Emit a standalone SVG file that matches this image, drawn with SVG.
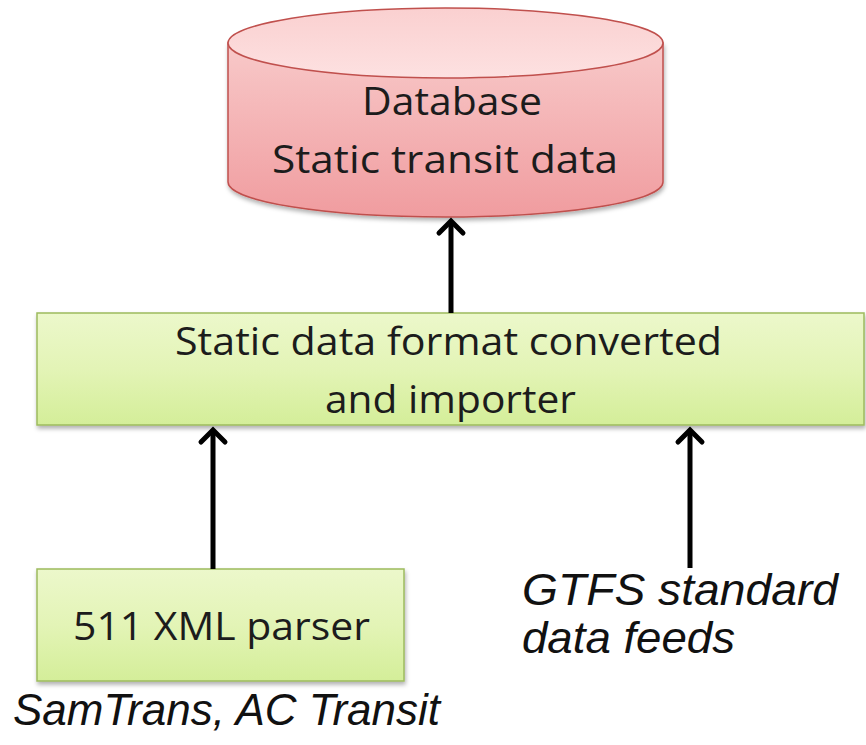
<svg xmlns="http://www.w3.org/2000/svg" width="866" height="745" viewBox="0 0 866 745">
<style>
.lbl{font-family:"Open Sans","Liberation Sans",sans-serif;font-size:39px;fill:#1c1c1c;text-anchor:start}
.ital{font-family:"Liberation Sans",Arial,sans-serif;font-style:italic;font-size:45px;fill:#111}
.box{fill:url(#green);stroke:#9dbb5e;stroke-width:1.5;filter:url(#shadow)}
.conn{stroke:#000;stroke-width:5;fill:none;marker-end:url(#arrow)}
</style>
<defs>
<linearGradient id="green" x1="0" y1="0" x2="0" y2="1">
<stop offset="0" stop-color="#ecf8cb"/>
<stop offset="0.5" stop-color="#e3f4b6"/>
<stop offset="1" stop-color="#d4ee99"/>
</linearGradient>
<linearGradient id="pinkBody" x1="0" y1="0" x2="0" y2="1">
<stop offset="0" stop-color="#f8c9c9"/>
<stop offset="1" stop-color="#f09c9f"/>
</linearGradient>
<linearGradient id="pinkTop" x1="0" y1="0" x2="0" y2="1">
<stop offset="0" stop-color="#fad0d0"/>
<stop offset="1" stop-color="#fde1e1"/>
</linearGradient>
<filter id="shadow" x="-5%" y="-10%" width="110%" height="130%">
<feDropShadow dx="1" dy="3" stdDeviation="2" flood-color="#000" flood-opacity="0.3"/>
</filter>
<marker id="arrow" markerUnits="userSpaceOnUse" markerWidth="40" markerHeight="40" viewBox="-20 -20 40 40" refX="0" refY="0" orient="auto" overflow="visible">
<path d="M-12,-12 L0,0 L-12,12" fill="none" stroke="#000" stroke-width="5" stroke-linejoin="miter" stroke-linecap="round"/>
</marker>
</defs>

<g id="database">
<path d="M228,43 V182 A217.5,35 0 0 0 663,182 V43 Z" fill="url(#pinkBody)" stroke="#c0504d" stroke-width="1.5" filter="url(#shadow)"/>
<ellipse cx="445.5" cy="43" rx="217.5" ry="35" fill="url(#pinkTop)" stroke="#c0504d" stroke-width="1.5"/>
<text class="lbl" x="362" y="115" textLength="180" lengthAdjust="spacingAndGlyphs">Database</text>
<text class="lbl" x="272" y="173" textLength="346" lengthAdjust="spacingAndGlyphs">Static transit data</text>
</g>

<g id="converter">
<rect class="box" x="37" y="313" width="827" height="112"/>
<text class="lbl" x="175" y="355" textLength="547" lengthAdjust="spacingAndGlyphs">Static data format converted</text>
<text class="lbl" x="325" y="413" textLength="251" lengthAdjust="spacingAndGlyphs">and importer</text>
</g>

<g id="parser">
<rect class="box" x="37" y="569" width="367" height="112"/>
<text class="lbl" x="73" y="640" textLength="297" lengthAdjust="spacingAndGlyphs">511 XML parser</text>
</g>

<g id="samtrans">
<text class="ital" x="13" y="725" textLength="427" lengthAdjust="spacingAndGlyphs">SamTrans, AC Transit</text>
</g>

<g id="gtfs">
<text class="ital" x="522" y="605" textLength="316" lengthAdjust="spacingAndGlyphs">GTFS standard</text>
<text class="ital" x="522" y="653" textLength="213" lengthAdjust="spacingAndGlyphs">data feeds</text>
</g>

<g id="connectors">
<line class="conn" x1="451" y1="313" x2="451" y2="221"/>
<line class="conn" x1="213" y1="569" x2="213" y2="430"/>
<line class="conn" x1="690" y1="568" x2="690" y2="430"/>
</g>
</svg>
